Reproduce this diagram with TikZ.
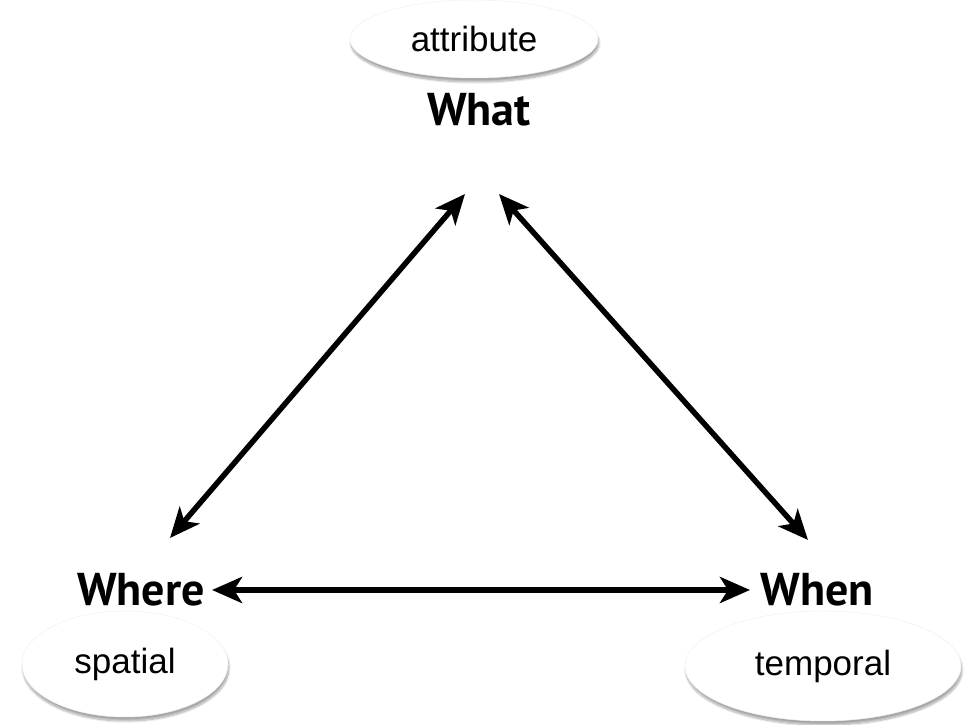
\documentclass[tikz,border=0pt]{standalone}
\usepackage{fontspec}
\setmainfont{Liberation Sans}
\newfontfamily\labfont{PT Sans}
\usetikzlibrary{shapes.geometric,arrows.meta,shadows.blur}
\begin{document}
\begin{tikzpicture}[x=1pt,y=1pt,
  bubble/.style={ellipse,fill=white,draw=gray!12,line width=0.5pt,
    blur shadow={shadow xshift=1pt,shadow yshift=-4pt,shadow blur steps=10,shadow opacity=35},
    font=\fontsize{35}{38}\selectfont, text=black},
  lab/.style={font=\labfont\bfseries\fontsize{46}{50}\selectfont, inner sep=0pt},
  arr/.style={line width=5.5pt, {Stealth[length=30pt,width=26pt,inset=8pt]}-{Stealth[length=30pt,width=26pt,inset=8pt]}}]
\useasboundingbox (0,0) rectangle (964,725);
\node[bubble, minimum width=248, minimum height=78] (attr) at (474,686) {attribute};
\node[bubble, minimum width=206, minimum height=106] (spat) at (125,61) {spatial};
\node[bubble, minimum width=276, minimum height=110] (temp) at (823,59) {temporal};
\node[lab] (what) at (479,615) {What};
\node[lab] (where) at (141,135) {Where};
\node[lab] (when) at (817,135) {When};
\coordinate (whatL) at (465,531);
\coordinate (whatR) at (499,531);
\coordinate (whereT) at (170,187);
\coordinate (whenT) at (808,185);
\coordinate (whereR) at (212,135);
\coordinate (whenL) at (750,135);
\draw[arr] (whatL) -- (whereT);
\draw[arr] (whatR) -- (whenT);
\draw[arr] (whereR) -- (whenL);
\end{tikzpicture}
\end{document}
